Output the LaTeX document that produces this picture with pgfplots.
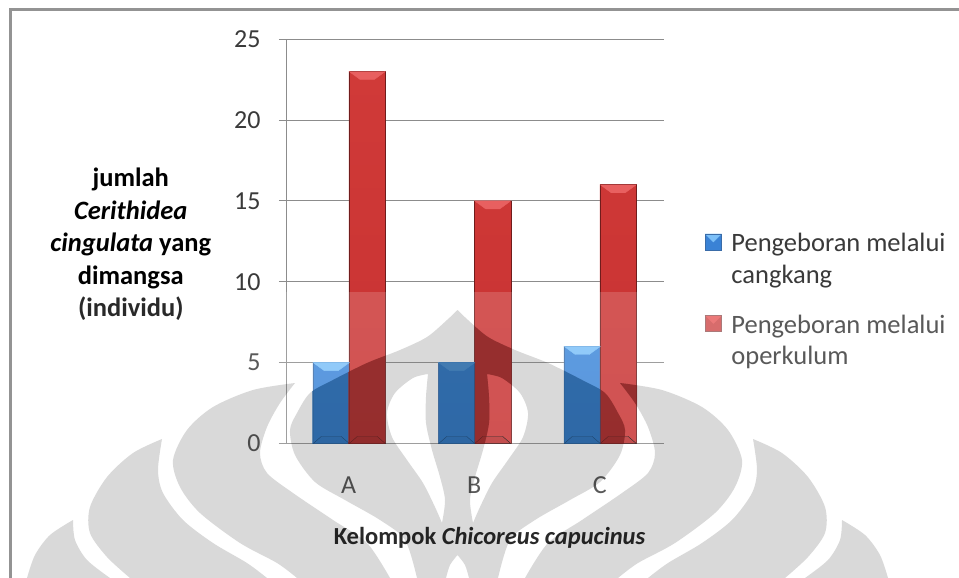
\documentclass[border=0pt]{standalone}
\usepackage{pgfplots}
\usepackage{fontspec}
\setmainfont{Carlito}
\pgfplotsset{compat=1.18}
\definecolor{gridc}{HTML}{8C8C8C}
\definecolor{txt}{HTML}{3A3A3A}
\definecolor{blueTop}{HTML}{3E88DA}
\definecolor{blueBot}{HTML}{3A82D5}
\definecolor{blueEdge}{HTML}{3A6CA8}
\definecolor{blueBev}{HTML}{7CC0F8}
\definecolor{redTop}{HTML}{D03A38}
\definecolor{redBot}{HTML}{C83232}
\definecolor{redEdge}{HTML}{701C1C}
\definecolor{redBev}{HTML}{E86060}
\definecolor{wmBlue}{HTML}{1C5B9B}
\definecolor{wmRed}{HTML}{841E1E}
\pgfdeclareplotmark{bevB}{\fill[blueBev] (-18pt,0pt)--(18pt,0pt)--(7pt,-8pt)--(-7pt,-8pt)--cycle;}
\pgfdeclareplotmark{bevR}{\fill[redBev] (-18pt,0pt)--(18pt,0pt)--(7pt,-8pt)--(-7pt,-8pt)--cycle;}
\pgfdeclareplotmark{bevF}{\fill[black,fill opacity=.08] (-18pt,0pt)--(18pt,0pt)--(10pt,7pt)--(-10pt,7pt)--cycle;}
\newcommand{\sidepaths}{%
 \fill plot[smooth] coordinates{(295,383)(253,390)(213,407)(187,430)(173,460)(180,487)(200,513)(240,543)(277,563)(297,578)}
   -- plot[smooth] coordinates{(390,578)(367,543)(333,520)(293,493)(267,473)(260,453)(267,427)(280,403)(295,383)} -- cycle;
 \fill plot[smooth] coordinates{(162,439)(133,453)(107,477)(90,507)(90,533)(107,557)(130,578)}
   -- plot[smooth] coordinates{(267,578)(247,563)(213,543)(183,520)(163,493)(158,470)(162,439)} -- cycle;
 \fill plot[smooth] coordinates{(73,520)(50,535)(35,555)(27,578)}
   -- plot[smooth] coordinates{(110,578)(87,560)(75,540)(73,520)} -- cycle;
}
\newcommand{\watermark}[2]{%
 \begin{scope}[x={(1pt,0pt)},y={(0pt,-1pt)},fill=#1,fill opacity=#2]
  \sidepaths
  \fill[even odd rule]
    plot[smooth] coordinates{(457.5,310)(447,320)(427,337)(400,350)(367,363)(333,380)(310,393)(297,413)(290,430)(295,455)(315,482)(345,500)(380,520)(405,540)(417,578)}
    -- plot[smooth] coordinates{(446,578)(450,565)(457.5,555)}
    -- plot[smooth] coordinates{(457.5,555)(465,565)(469,578)}
    -- plot[smooth] coordinates{(498,578)(510,540)(535,520)(570,500)(600,482)(620,455)(625,430)(618,413)(605,393)(582,380)(548,363)(515,350)(488,337)(468,320)(457.5,310)} -- cycle
    plot[smooth] coordinates{(428,374)(413,378)(395,393)(387,413)(392,437)(407,460)(423,483)(435,507)(442,523)}
    -- plot[smooth] coordinates{(442,523)(445,500)(440,477)(432,450)(426,423)(426,397)(428,374)} -- cycle
    plot[smooth] coordinates{(487,374)(502,378)(520,393)(528,413)(523,437)(508,460)(492,483)(480,507)(473,523)}
    -- plot[smooth] coordinates{(473,523)(470,500)(475,477)(483,450)(489,423)(489,397)(487,374)} -- cycle;
 \end{scope}
 \begin{scope}[x={(-1pt,0pt)},y={(0pt,-1pt)},shift={(-915,0)},fill=#1,fill opacity=#2]
  \sidepaths
 \end{scope}
}
\newcommand{\tint}[6]{\begin{scope}\clip (#1,-#3) rectangle (#2,-#4);\watermark{#5}{#6}\end{scope}}
\begin{document}
\begin{tikzpicture}[x=1pt,y=1pt]
\path[use as bounding box] (0,0) rectangle (959,-578);
\fill[white] (0,0) rectangle (959,-578);
\draw[color=gray!85,line width=2.4pt] (959,-9.5) -- (10.5,-9.5) -- (10.5,-578);
\begin{axis}[
  at={(287pt,-443.5pt)},anchor=south west,
  scale only axis,width=376.5pt,height=404.3pt,
  xmin=-0.5,xmax=2.5,ymin=0,ymax=25,
  axis x line=bottom,axis y line=left,
  axis line style={draw=gridc,line width=1pt,-},
  xtick={0,1,2},xticklabels={A,B,C},
  major x tick style={draw=none},
  extra x ticks={-0.5,0.5,1.5,2.5},extra x tick labels={},
  extra x tick style={major tick length=8pt,tick style={draw=gridc,line width=1pt},tickwidth=8pt},
  ytick={0,5,...,25},
  y tick style={draw=gridc,line width=1pt},
  tick align=outside,major tick length=8pt,
  ymajorgrids,grid style={draw=gridc,line width=1pt},
  clip=false,
  /pgf/number format/assume math mode=true,
  tick label style={font=\fontsize{26}{30}\selectfont,text=txt},
  yticklabel style={xshift=-15pt},
  xticklabel style={yshift=-22pt,xshift=-1pt},
  ylabel={jumlah\\\textit{Cerithidea}\\\textit{cingulata} yang\\dimangsa\\(individu)},
  ylabel style={rotate=-90,align=center,at={(axis description cs:-0.415,0.4926)},anchor=center,
    font=\bfseries\fontsize{26.5}{32.5}\selectfont,text=black},
  xlabel={Kelompok \textit{Chicoreus capucinus}},
  xlabel style={at={(axis description cs:0.538,-0.2345)},anchor=center,
    font=\bfseries\fontsize{24.5}{28}\selectfont,text=black},
  legend style={at={(axis description cs:1.11,0.5254)},anchor=north west,draw=none,fill=none,
    font=\fontsize{26.5}{31.5}\selectfont,text=txt,
    cells={align=left,anchor=west},row sep=26pt,inner sep=0pt},
  legend image code/.code={},
]
\addlegendimage{legend image code/.code={%
  \path[draw=none] (0pt,0pt) -- (24pt,0pt);
  \fill[blueBot] (0pt,9pt) rectangle (16pt,25pt);
  \fill[blueBev] (0pt,25pt)--(16pt,25pt)--(8pt,17pt)--cycle;
  \draw[blueEdge,line width=.6pt] (0pt,9pt) rectangle (16pt,25pt);}}
\addlegendentry{Pengeboran melalui\\cangkang}
\addlegendimage{legend image code/.code={%
  \path[draw=none] (0pt,0pt) -- (24pt,0pt);
  \fill[redBot!85!white] (0pt,9pt) rectangle (16pt,25pt);
  \fill[redBev] (0pt,25pt)--(16pt,25pt)--(8pt,17pt)--cycle;
  \draw[redEdge!70!white,line width=.6pt] (0pt,9pt) rectangle (16pt,25pt);}}
\addlegendentry{Pengeboran melalui\\operkulum}
% series: Pengeboran melalui cangkang
\addplot[forget plot,ybar,bar width=36.5pt,bar shift=-18.5pt,draw=blueEdge,line width=.6pt,
  top color=blueTop,bottom color=blueBot] coordinates {(0,5) (1,5) (2,6)};
% series: Pengeboran melalui operkulum
\addplot[forget plot,ybar,bar width=36.5pt,bar shift=17.5pt,draw=redEdge,line width=.6pt,
  top color=redTop,bottom color=redBot] coordinates {(0,23) (1,15) (2,16)};
% bevels
\addplot[forget plot,only marks,mark=bevB,mark options={xshift=-18.5pt}] coordinates {(0,5) (1,5) (2,6)};
\addplot[forget plot,only marks,mark=bevR,mark options={xshift=17.5pt}] coordinates {(0,23) (1,15) (2,16)};
\addplot[forget plot,only marks,mark=bevF,mark options={xshift=-18.5pt}] coordinates {(0,0) (1,0) (2,0)};
\addplot[forget plot,only marks,mark=bevF,mark options={xshift=17.5pt}] coordinates {(0,0) (1,0) (2,0)};
\end{axis}
% pale band of the watermark page
\fill[white,fill opacity=.16] (12,-292) rectangle (959,-578);
\watermark{black}{.15}
% over the bars the watermark is darker and keeps the hue of the bar
\tint{312}{348}{362}{443}{wmBlue}{.6}
\tint{438.5}{475}{362}{443}{wmBlue}{.6}
\tint{564}{600.5}{346}{443}{wmBlue}{.6}
\tint{348}{385}{292}{443}{wmRed}{.6}
\tint{475}{511.5}{292}{443}{wmRed}{.6}
\tint{600.5}{637}{292}{443}{wmRed}{.6}
\end{tikzpicture}
\end{document}
